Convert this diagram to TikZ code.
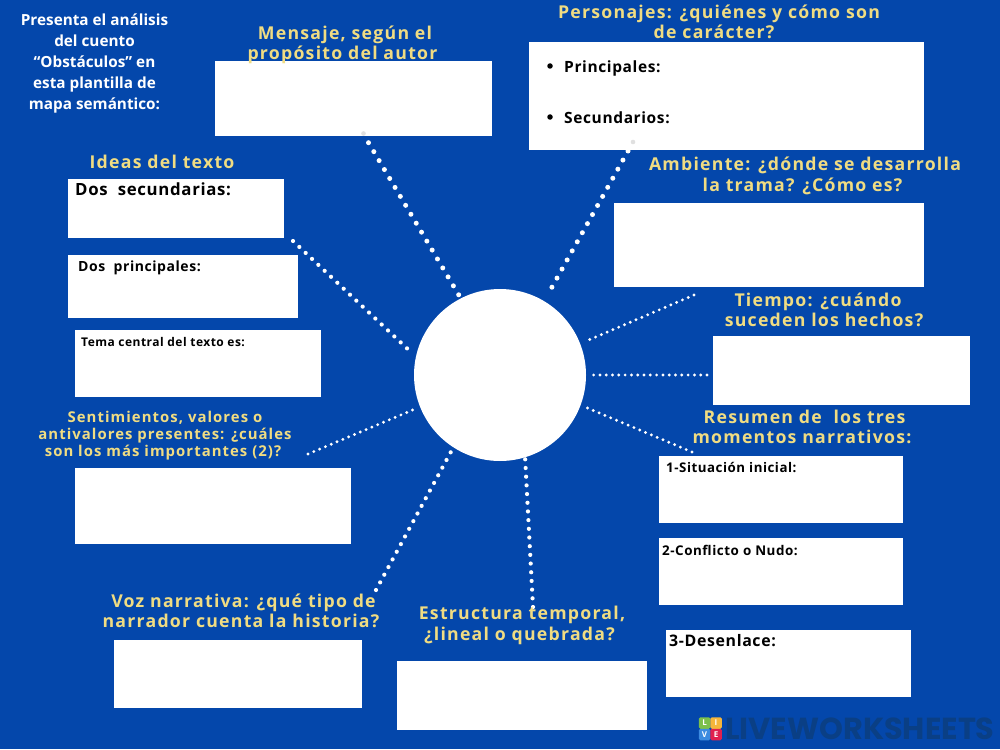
\documentclass[tikz,border=0pt]{standalone}
\usepackage{fontspec}
\setmainfont{Open Sans}
\newfontfamily\ttl{Open Sans}[LetterSpace=7,BoldFont={Open Sans Bold}]
\newfontfamily\lbl{Open Sans}[LetterSpace=4,BoldFont={Open Sans Bold}]
\newfontfamily\wm{Poppins}[BoldFont={Poppins Bold}]
\definecolor{bgblue}{HTML}{0447AB}
\definecolor{ttlyellow}{HTML}{F0DC82}
\definecolor{markblue}{HTML}{0A3F85}
\definecolor{tileL}{RGB}{124,192,75}
\definecolor{tileI}{RGB}{245,181,59}
\definecolor{tileV}{RGB}{61,139,224}
\definecolor{tileE}{RGB}{224,32,79}
\tikzset{
  x=1pt,y=-1pt,
  whitebox/.style={fill=white,draw=none,rectangle,inner sep=0pt,anchor=north west},
  heading/.style={text=ttlyellow,font=\ttl\bfseries\fontsize{17.7}{20.5}\selectfont,align=center,inner sep=0pt},
  intro/.style={text=white,font=\bfseries\fontsize{15.3}{21}\selectfont,align=center,inner sep=0pt},
  boxlabel/.style={text=black,inner sep=0pt,anchor=west},
  dotbig/.style={white,line width=5pt,line cap=round,dash pattern=on 0pt off 10.4pt},
  dotmid/.style={white,line width=4.2pt,line cap=round,dash pattern=on 0pt off 8.7pt},
  dotsmall/.style={white,line width=3.2pt,line cap=round,dash pattern=on 0pt off 6.3pt},
  tile/.style={minimum size=11.5pt,inner sep=0pt,rounded corners=1.5pt,text=white,font=\bfseries\fontsize{8}{8}\selectfont},
}
\newcommand{\wbox}[5]{\node[whitebox,minimum width=#4pt-#2pt,minimum height=#5pt-#3pt] (#1) at (#2,#3) {};}
\newcommand{\lf}[1]{\lbl\bfseries\fontsize{#1}{#1}\selectfont}
\begin{document}
\begin{tikzpicture}
\useasboundingbox (0,0) rectangle (1000,749);
\fill[bgblue] (0,0) rectangle (1000,749);
\wbox{mensaje}{215}{61}{492}{136}
\wbox{personajes}{529}{42}{924}{150}
\wbox{ambiente}{614}{203}{924}{287}
\wbox{tiempo}{713}{336}{970}{405}
\wbox{inicial}{659}{456}{903}{522.5}
\wbox{conflicto}{659}{538}{903}{605}
\wbox{desenlace}{666}{630}{910.5}{697}
\wbox{estructura}{397}{661}{647}{729.5}
\wbox{voz}{114}{640}{362}{708}
\wbox{sentim}{75}{468}{351}{544}
\wbox{tema}{75}{330}{321}{397}
\wbox{princ}{68}{255}{298}{318}
\wbox{secund}{68}{179}{284}{238}
\node[circle,fill=white,inner sep=0pt,minimum size=172pt] (centro) at (500,375) {};

\coordinate (c1a) at (368.5,142.7); \coordinate (c1b) at (460,297);
\coordinate (c2a) at (628,151); \coordinate (c2b) at (547,296);
\coordinate (c3a) at (694,295); \coordinate (c3b) at (584,342);
\coordinate (c4a) at (707,375); \coordinate (c4b) at (592,375);
\coordinate (c5a) at (692,452); \coordinate (c5b) at (585,407);
\coordinate (c6a) at (533,607); \coordinate (c6b) at (525,456);
\coordinate (c7a) at (376,590); \coordinate (c7b) at (453,448);
\coordinate (c8a) at (308,454); \coordinate (c8b) at (415,409);
\coordinate (c9a) at (293,241); \coordinate (c9b) at (413,354);
\draw[dotbig] (c1a) -- (c1b);
\draw[dotbig] (c2a) -- (c2b);
\draw[dotsmall] (c3a) -- (c3b);
\draw[dotsmall] (c4a) -- (c4b);
\draw[dotsmall] (c5a) -- (c5b);
\draw[dotmid] (c6a) -- (c6b);
\draw[dotmid] (c7a) -- (c7b);
\draw[dotsmall] (c8a) -- (c8b);
\draw[dotmid] (c9a) -- (c9b);
\fill[black!12] (363.5,133.5) circle (2.3pt);
\fill[black!12] (633,142) circle (2.3pt);

\node[intro] (intro) at (94.5,63.5) {Presenta el análisis\\del cuento\\“Obstáculos” en\\esta plantilla de\\mapa semántico:};
\node[heading] (hmensaje) at (342.5,45) {\hspace*{5pt}Mensaje, según el\\propósito del autor};
\node[heading] (hperson) at (719,22) {Personajes: ¿quiénes y cómo son\\de carácter?\hspace*{10pt}};
\node[heading] (hamb) at (805,176) {Ambiente: ¿dónde se desarrolla\\la trama? ¿Cómo es?\hspace*{5pt}};
\node[heading] (htiempo) at (824,310) {Tiempo: ¿cuándo\hspace*{12pt}\\suceden los hechos?};
\node[heading] (hresumen) at (803,427) {\hspace*{3pt}Resumen de\ \ los tres\\momentos narrativos:\hspace*{2pt}};
\node[heading] (hideas) at (162,162) {Ideas del texto};
\node[heading,font=\ttl\bfseries\fontsize{14.9}{17}\selectfont] (hsent) at (165,436) {Sentimientos, valores o\\antivalores presentes: ¿cuáles\\son los más importantes (2)?\hspace*{4pt}};
\node[heading] (hvoz) at (241,611) {\hspace*{5pt}Voz narrativa: ¿qué tipo de\\narrador cuenta la historia?};
\node[heading] (hestr) at (521,625.5) {\hspace*{2pt}Estructura temporal,\\¿lineal o quebrada?\hspace*{3pt}};

\node[boxlabel,font=\lf{16.8}] (t1) at (75,189) {Dos\ \ secundarias:};
\node[boxlabel,font=\lf{14}] (t2) at (78,268) {Dos\ \ principales:};
\node[boxlabel,font=\lf{12}] (t3) at (81,342) {Tema central del texto es:};
\node[boxlabel,font=\lf{15.5}] (t4) at (564,68) {Principales:};
\node[boxlabel,font=\lf{15.5}] (t5) at (564,118) {Secundarios:};
\node[circle,fill=black,inner sep=0pt,minimum size=5.5pt] (b1) at (550,66) {};
\node[circle,fill=black,inner sep=0pt,minimum size=5.5pt] (b2) at (550,117) {};
\node[boxlabel,font=\lf{13.3}] (t6) at (666,467) {1-Situación inicial:};
\node[boxlabel,font=\lf{13.4}] (t7) at (662,550) {2-Conflicto o Nudo:};
\node[boxlabel,font=\lf{15.9}] (t8) at (669,641) {3-Desenlace:};

\node[tile,fill=tileL] (lL) at (704.5,723) {L};
\node[tile,fill=tileI] (lI) at (716,723) {I};
\node[tile,fill=tileV] (lV) at (704.5,734.5) {V};
\node[tile,fill=tileE] (lE) at (716,734.5) {E};
\node[text=markblue,font=\wm\bfseries\fontsize{30.4}{30.4}\selectfont,inner sep=0pt,anchor=west] (lw) at (725,729) {LIVEWORKSHEETS};
\end{tikzpicture}
\end{document}
